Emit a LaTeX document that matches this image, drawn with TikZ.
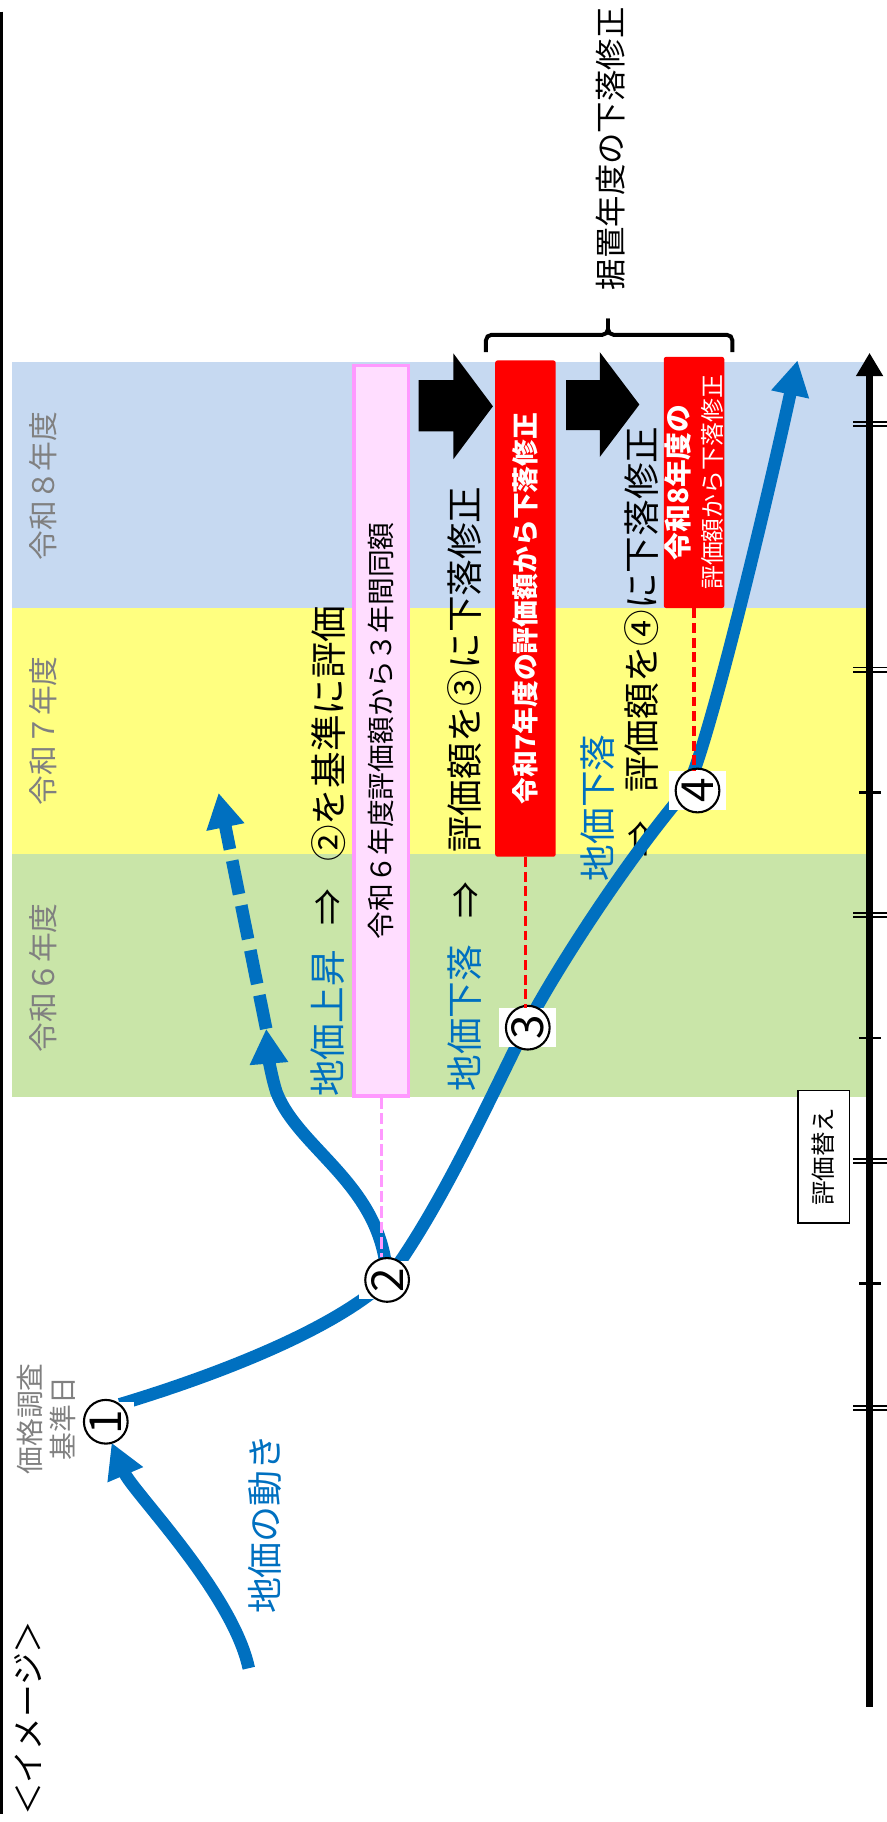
\documentclass[tikz,border=0pt]{standalone}
\usepackage{fontspec}
\setmainfont{Noto Sans CJK JP}
\usepackage{tikz}
\usetikzlibrary{arrows.meta}
\definecolor{land}{HTML}{0070C0}
\definecolor{yr8}{HTML}{C6D9F1}
\definecolor{yr7}{HTML}{FFFF80}
\definecolor{yr6}{HTML}{C9E5A8}
\definecolor{pk}{HTML}{FFDDFF}
\definecolor{pkline}{HTML}{FF99FF}
\definecolor{yrgray}{HTML}{808080}
\newcommand\sz[1]{\fontsize{#1}{#1}\selectfont}

\begin{document}
\begin{tikzpicture}[x=0.025cm,y=-0.025cm,
    lbl/.style={rotate=90,inner sep=0,font=\sz{22.4}},
    yr/.style={rotate=90,inner sep=0,text=yrgray,font=\sz{18.2}},
    flow/.style={land,line width=0.27cm,-{Triangle[length=0.75cm,width=0.78cm]}},
    numc/.style={circle,draw,fill=white,line width=0.045cm,minimum size=0.94cm,inner sep=0,font=\sz{27}},
    numbox/.style={fill=white,minimum width=1.23cm,minimum height=0.83cm,inner sep=0},
    redbox/.style={rotate=90,fill=red,rounded corners=0.05cm,text=white,minimum height=1.3cm,inner sep=0},
    reddash/.style={red,line width=0.07cm,dash pattern=on 6pt off 3pt}]
        \useasboundingbox (0,0) rectangle (763,1567.3);

        \fill[yr8] (10,311.5) rectangle (746,523);
        \fill[yr7] (10,523) rectangle (746,735);
        \fill[yr6] (10,735) rectangle (746,944);
        \draw[line width=0.06cm] (1.2,10) -- (1.2,1560);

        \path
        (37,418) node[yr] (Y8) {令和８年度}
        (37,628.5) node[yr] (Y7) {令和７年度}
        (37,841) node[yr] (Y6) {令和６年度}
        ;

        \node[rotate=90,draw=pkline,fill=pk,line width=0.075cm,minimum width=15.7cm,minimum height=1.175cm,inner sep=0,font=\sz{17}] (Pk) at (328,628.5) {令和６年度評価額から３年間同額};

        \fill (360,327) -- (390,327) -- (390,304) -- (424,349.5) -- (390,395) -- (390,371) -- (360,371) -- cycle;
        \fill (487,327) -- (516,327) -- (516,303) -- (550,348) -- (516,393) -- (516,370) -- (487,370) -- cycle;

        \node[redbox,minimum width=10.67cm,font=\bfseries\sz{16.4}] (Red7) at (452,523.5) {令和7年度の評価額から下落修正};
        \node[redbox,minimum width=5.4cm,align=center,font=\fontsize{15}{20.5}\selectfont] (Red8) at (597,415) {{\bfseries\fontsize{17}{20.5}\selectfont 令和8年度の}\\{\fontsize{14.6}{20.5}\selectfont 評価額から下落修正}};

        \draw[line width=0.085cm,rounded corners=0.12cm] (418,303) -- (418,288) -- (523,288) -- (523,274);
        \draw[line width=0.085cm,rounded corners=0.12cm] (630,303) -- (630,288) -- (523,288) -- (523,274);
        \node[lbl,font=\sz{19.2}] (Sue) at (525,128) {据置年度の下落修正};

        \draw[line width=0.15cm,-{Triangle[length=0.5cm,width=0.55cm]}] (748,1468) -- (748,303.5);
        \draw[line width=0.042cm]
        (734,363.2) -- (763,363.2) (734,366.8) -- (763,366.8)
        (734,574.2) -- (763,574.2) (734,577.8) -- (763,577.8)
        (734,785.2) -- (763,785.2) (734,788.8) -- (763,788.8)
        (734,996.7) -- (763,996.7) (734,1000.3) -- (763,1000.3)
        (734,1209.2) -- (763,1209.2) (734,1212.8) -- (763,1212.8);
        \draw[line width=0.058cm]
        (739,682) -- (758,682)
        (739,893) -- (758,893)
        (739,1104) -- (758,1104);

        \node[rotate=90,draw,fill=white,line width=0.03cm,minimum width=2.85cm,minimum height=1.1cm,inner sep=0,font=\sz{15}] (Kae) at (708.5,995) {評価替え};

        \path
        (282,880.5) node[lbl,text=land] (Up) {地価上昇}
        (283,780) node[lbl] (UpTo) {⇒}
        (283,631) node[lbl] (UpRes) {②を基準に評価}
        (400,876) node[lbl,text=land] (Dn3) {地価下落}
        (401,774) node[lbl] (Dn3To) {⇒}
        (400,576) node[lbl] (Dn3Res) {評価額を③に下落修正}
        (514,695) node[lbl,text=land] (Dn4) {地価下落}
        (552,722) node[lbl] (Dn4To) {⇒}
        (552,524.5) node[lbl] (Dn4Res) {評価額を④に下落修正}
        (228,1311) node[lbl,text=land,font=\sz{22}] (Move) {地価の動き}
        (24,1478) node[lbl,font=\sz{20}] (Img) {＜イメージ＞}
        (40,1220.5) node[lbl,text=yrgray,align=center,font=\fontsize{17}{20.3}\selectfont] (Base) {価格調査\\基準日}
        ;

        \coordinate (P1) at (91,1223);
        \coordinate (P2) at (333,1101);
        \coordinate (P3) at (454,884);
        \coordinate (P4) at (600,680);
        \coordinate (S0) at (214,1435);
        \coordinate (In1) at (96,1241);
        \coordinate (Out1) at (103,1208);
        \coordinate (Via3) at (452,884);
        \coordinate (Via4) at (590,680);
        \coordinate (UpTip) at (229,885);
        \coordinate (UpEnd) at (188,682);
        \coordinate (DnTip) at (686,310);

        \draw[flow] (S0) .. controls (200,1370) and (114,1283) .. (In1);
        \draw[land,line width=0.27cm] (Out1) .. controls (163,1190) and (280,1150) .. (P2);
        \draw[flow] (P2) .. controls (330,1020) and (258,990) .. (238,940) .. controls (234,928) and (231,910) .. (UpTip);
        \draw[flow,dash pattern=on 21pt off 7pt] (UpTip) -- (UpEnd);
        \draw[flow] (P2) .. controls (378,1041) and (422,944) .. (Via3)
        .. controls (476,838) and (535,745) .. (Via4)
        .. controls (608,648) and (660,430) .. (DnTip);

        \path
        (P1) node[numbox] (B1) {} node[numc] (C1) {\rotatebox{90}{1}}
        (P2) node[numbox] (B2) {} node[numc] (C2) {\rotatebox{90}{2}}
        (P3) node[numbox] (B3) {} node[numc] (C3) {\rotatebox{90}{3}}
        (P4) node[numbox] (B4) {} node[numc] (C4) {\rotatebox{90}{4}}
        ;

        \draw[pkline,line width=0.075cm,dash pattern=on 7pt off 2.5pt] (Pk.west) -- (Pk.west |- C2.north);
        \draw[reddash] (Red7.west) -- (Red7.west |- B3.north);
        \draw[reddash] (Red8.west) -- (Red8.west |- B4.north);
      \end{tikzpicture}
\end{document}
